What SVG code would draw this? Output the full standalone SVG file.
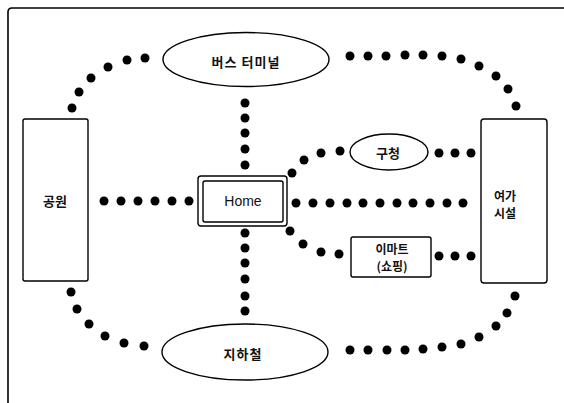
<svg xmlns="http://www.w3.org/2000/svg" width="564" height="403" viewBox="0 0 564 403">
<style>
.frame{fill:none;stroke:#000;stroke-width:1.6}
.box{fill:#fff;stroke:#000;stroke-width:1.4}
.d{fill:#000}
.k{font-family:"Noto Sans CJK KR","Noto Sans",sans-serif;font-size:13px;font-weight:700;fill:#111;text-anchor:middle;dominant-baseline:central}
.k2{font-size:12px}
.e{font-family:"Liberation Sans",Arial,sans-serif;font-size:14px;fill:#111;text-anchor:middle;dominant-baseline:central}
</style>
<rect width="564" height="403" fill="#fff"/>
<path class="frame" d="M8,403 V12 Q8,8 12,8 H564"/>
<g id="connectors">
<g id="park-bus">
<circle class="d" cx="145" cy="58" r="4.5"/><circle class="d" cx="127" cy="60" r="4.5"/><circle class="d" cx="108" cy="67" r="4.5"/><circle class="d" cx="91" cy="78" r="4.5"/><circle class="d" cx="79" cy="92" r="4.5"/><circle class="d" cx="72" cy="108" r="4.5"/>
</g>
<g id="bus-leisure">
<circle class="d" cx="350" cy="56" r="4.5"/><circle class="d" cx="368" cy="56" r="4.5"/><circle class="d" cx="386" cy="56" r="4.5"/><circle class="d" cx="405" cy="55" r="4.5"/><circle class="d" cx="423" cy="55" r="4.5"/><circle class="d" cx="442" cy="56" r="4.5"/><circle class="d" cx="461" cy="59" r="4.5"/><circle class="d" cx="479" cy="66" r="4.5"/><circle class="d" cx="496" cy="76" r="4.5"/><circle class="d" cx="508" cy="89" r="4.5"/><circle class="d" cx="516" cy="106" r="4.5"/>
</g>
<g id="bus-home">
<circle class="d" cx="245" cy="103" r="4.5"/><circle class="d" cx="245" cy="118" r="4.5"/><circle class="d" cx="245" cy="133" r="4.5"/><circle class="d" cx="245" cy="149" r="4.5"/><circle class="d" cx="245" cy="165" r="4.5"/>
</g>
<g id="home-subway">
<circle class="d" cx="245" cy="233" r="4.5"/><circle class="d" cx="245" cy="248" r="4.5"/><circle class="d" cx="245" cy="263" r="4.5"/><circle class="d" cx="245" cy="279" r="4.5"/><circle class="d" cx="245" cy="296" r="4.5"/><circle class="d" cx="245" cy="311" r="4.5"/>
</g>
<g id="park-home">
<circle class="d" cx="104" cy="201" r="4.5"/><circle class="d" cx="121" cy="201" r="4.5"/><circle class="d" cx="138" cy="201" r="4.5"/><circle class="d" cx="155" cy="201" r="4.5"/><circle class="d" cx="172" cy="201" r="4.5"/><circle class="d" cx="189" cy="201" r="4.5"/>
</g>
<g id="home-leisure">
<circle class="d" cx="296" cy="203" r="4.5"/><circle class="d" cx="313" cy="203" r="4.5"/><circle class="d" cx="330" cy="203" r="4.5"/><circle class="d" cx="347" cy="203" r="4.5"/><circle class="d" cx="363" cy="203" r="4.5"/><circle class="d" cx="380" cy="203" r="4.5"/><circle class="d" cx="397" cy="203" r="4.5"/><circle class="d" cx="413" cy="203" r="4.5"/><circle class="d" cx="430" cy="203" r="4.5"/><circle class="d" cx="447" cy="203" r="4.5"/><circle class="d" cx="463" cy="203" r="4.5"/>
</g>
<g id="home-office">
<circle class="d" cx="292" cy="173" r="4.5"/><circle class="d" cx="304" cy="160" r="4.5"/><circle class="d" cx="321" cy="153" r="4.5"/><circle class="d" cx="340" cy="151" r="4.5"/>
</g>
<g id="office-leisure">
<circle class="d" cx="439" cy="153" r="4.5"/><circle class="d" cx="455" cy="153" r="4.5"/><circle class="d" cx="471" cy="153" r="4.5"/>
</g>
<g id="home-emart">
<circle class="d" cx="290" cy="231" r="4.5"/><circle class="d" cx="303" cy="244" r="4.5"/><circle class="d" cx="321" cy="252" r="4.5"/><circle class="d" cx="339" cy="254" r="4.5"/>
</g>
<g id="emart-leisure">
<circle class="d" cx="439" cy="256" r="4.5"/><circle class="d" cx="455" cy="256" r="4.5"/><circle class="d" cx="471" cy="256" r="4.5"/>
</g>
<g id="park-subway">
<circle class="d" cx="71" cy="292" r="4.5"/><circle class="d" cx="77" cy="309" r="4.5"/><circle class="d" cx="89" cy="324" r="4.5"/><circle class="d" cx="105" cy="336" r="4.5"/><circle class="d" cx="124" cy="343" r="4.5"/><circle class="d" cx="144" cy="346" r="4.5"/>
</g>
<g id="subway-leisure">
<circle class="d" cx="350" cy="350" r="4.5"/><circle class="d" cx="368" cy="350" r="4.5"/><circle class="d" cx="387" cy="350" r="4.5"/><circle class="d" cx="405" cy="350" r="4.5"/><circle class="d" cx="423" cy="349" r="4.5"/><circle class="d" cx="442" cy="347" r="4.5"/><circle class="d" cx="461" cy="344" r="4.5"/><circle class="d" cx="479" cy="337" r="4.5"/><circle class="d" cx="496" cy="326" r="4.5"/><circle class="d" cx="507" cy="313" r="4.5"/><circle class="d" cx="515" cy="296" r="4.5"/>
</g>
</g>
<g id="park">
<rect class="box" x="23" y="119" width="65" height="162" rx="2"/>
<text class="k" x="55" y="200">공원</text>
</g>
<g id="leisure">
<rect class="box" x="481" y="119" width="66" height="164" rx="3"/>
<text class="k k2" x="505" y="195">여가</text>
<text class="k k2" x="505" y="212">시설</text>
</g>
<g id="bus-terminal">
<ellipse class="box" cx="246" cy="59.5" rx="83" ry="27"/>
<text class="k" x="246" y="61" font-size="14" letter-spacing="1">버스 터미널</text>
</g>
<g id="subway">
<ellipse class="box" cx="245" cy="352" rx="83" ry="28"/>
<text class="k" x="243" y="353" font-size="14" letter-spacing="1">지하철</text>
</g>
<g id="home">
<rect class="box" x="198" y="176" width="89" height="50" rx="3"/>
<rect class="box" x="203" y="181" width="80" height="41" rx="2"/>
<text class="e" x="243" y="201">Home</text>
</g>
<g id="office">
<ellipse class="box" cx="389" cy="152" rx="39" ry="18"/>
<text class="k" x="388" y="152">구청</text>
</g>
<g id="emart">
<rect class="box" x="351" y="237" width="80" height="40" rx="2"/>
<text class="k k2" x="392" y="248.5">이마트</text>
<text class="k k2" x="392" y="265.5">(쇼핑)</text>
</g>
</svg>
